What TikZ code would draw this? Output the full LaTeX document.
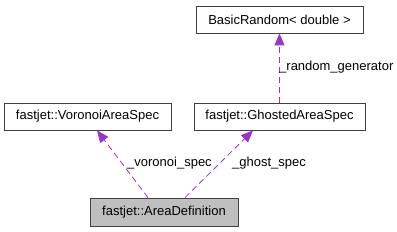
\documentclass[tikz,border=0pt]{standalone}
\usepackage{fontspec}
\setmainfont{Liberation Sans}
\usepackage{tikz}
\usetikzlibrary{arrows.meta}
\definecolor{edgepurple}{RGB}{154,50,205}

\begin{document}
\begin{tikzpicture}[x=1pt, y=1pt,
    classbox/.style={draw=black!75, thick, fill=white, inner sep=0pt, minimum height=27pt, font=\fontsize{13}{15}\selectfont},
    usage/.style={draw=edgepurple, thick, dashed, dash pattern=on 6pt off 4pt, -{Triangle[length=12pt, width=10pt]}},
    edgelabel/.style={anchor=west, inner sep=0pt, font=\fontsize{13}{15}\selectfont}]
  \useasboundingbox (0,0) rectangle (397,232);
  % classes
  \node[classbox, minimum width=167pt] (random) at (279.5,212.5) {BasicRandom< double >};
  \node[classbox, minimum width=167pt] (voronoi) at (87.5,115.5) {fastjet::VoronoiAreaSpec};
  \node[classbox, minimum width=171pt] (ghost) at (279.5,115.5) {fastjet::GhostedAreaSpec};
  \node[classbox, minimum width=148pt, minimum height=28pt, fill=black!25] (area) at (164,20) {fastjet::AreaDefinition};
  % members
  \draw[usage] ([xshift=-16pt]area.north) -- ([xshift=9.5pt]voronoi.south);
  \draw[usage] ([xshift=21pt]area.north) -- ([xshift=-26.5pt]ghost.south);
  \draw[usage] (ghost.north) -- (random.south);
  \node[edgelabel] (voronoilbl) at (127,69) {\_voronoi\_spec};
  \node[edgelabel] (ghostlbl) at (232,69) {\_ghost\_spec};
  \node[edgelabel] (randomlbl) at (279,165) {\_random\_generator};
\end{tikzpicture}
\end{document}
